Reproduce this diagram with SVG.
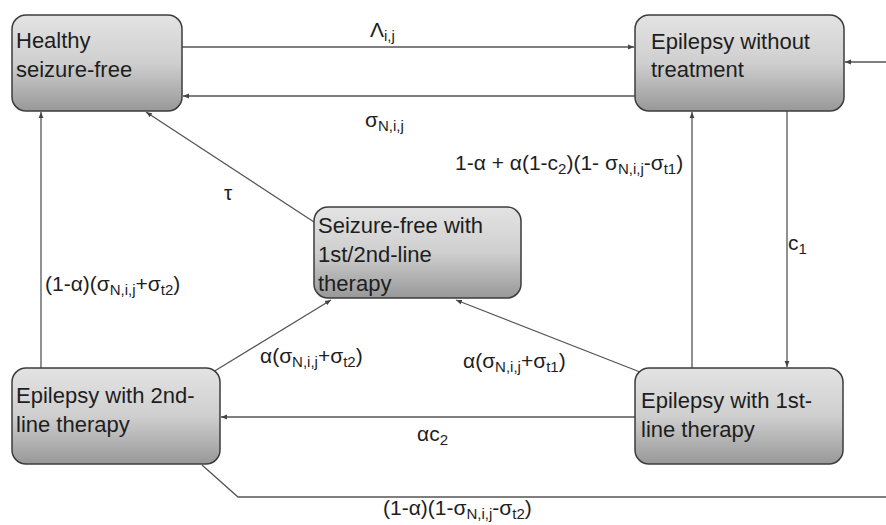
<svg xmlns="http://www.w3.org/2000/svg" width="886" height="525" viewBox="0 0 886 525">
<defs>
<linearGradient id="g" x1="0" y1="0" x2="0" y2="1">
<stop offset="0" stop-color="#e3e3e3"/>
<stop offset="0.5" stop-color="#cfcfcf"/>
<stop offset="1" stop-color="#989898"/>
</linearGradient>
<marker id="a" viewBox="0 0 10 10" refX="10" refY="5" markerWidth="6" markerHeight="6" orient="auto" markerUnits="userSpaceOnUse">
<path d="M0,1 L10,5 L0,9 z" fill="#444"/>
</marker>
<style>
.box{fill:url(#g);stroke:#3c3c3c;stroke-width:1.5}
.nt{font-family:"Liberation Sans",Arial,sans-serif;font-size:22px;fill:#1e1e1e}
.c{fill:none;stroke:#555;stroke-width:1.3}
.ar{marker-end:url(#a)}
.lb{font-family:"Liberation Sans",Arial,sans-serif;font-size:21px;fill:#1e1e1e}
.s{font-size:15px}
</style>
</defs>
<g id="connectors">
<path class="c ar" d="M182,47 H634"/>
<path class="c ar" d="M635,96 H183"/>
<path class="c ar" d="M886,62 H845"/>
<path class="c ar" d="M314,222 L146,112"/>
<path class="c ar" d="M41,368 V112"/>
<path class="c ar" d="M213,372 L331,300"/>
<path class="c ar" d="M640,372 L456,300"/>
<path class="c ar" d="M635,417 H221"/>
<path class="c ar" d="M692,368 V112"/>
<path class="c ar" d="M787,111 V367"/>
<path class="c" d="M202,465 L238,497 H886"/>
<text class="lb" x="370" y="37">Λ<tspan class="s" dy="4">i,j</tspan></text>
<text class="lb" x="365" y="127">σ<tspan class="s" dy="4">N,i,j</tspan></text>
<text class="lb" x="224" y="200">τ</text>
<text class="lb" x="45" y="291">(1-α)(σ<tspan class="s" dy="4">N,i,j</tspan><tspan dy="-4">+σ</tspan><tspan class="s" dy="4">t2</tspan><tspan dy="-4">)</tspan></text>
<text class="lb" x="260" y="363">α(σ<tspan class="s" dy="4">N,i,j</tspan><tspan dy="-4">+σ</tspan><tspan class="s" dy="4">t2</tspan><tspan dy="-4">)</tspan></text>
<text class="lb" x="463" y="368">α(σ<tspan class="s" dy="4">N,i,j</tspan><tspan dy="-4">+σ</tspan><tspan class="s" dy="4">t1</tspan><tspan dy="-4">)</tspan></text>
<text class="lb" x="417" y="441">αc<tspan class="s" dy="4">2</tspan></text>
<text class="lb" x="455" y="170">1-α + α(1-c<tspan class="s" dy="4">2</tspan><tspan dy="-4">)(1- σ</tspan><tspan class="s" dy="4">N,i,j</tspan><tspan dy="-4">-σ</tspan><tspan class="s" dy="4">t1</tspan><tspan dy="-4">)</tspan></text>
<text class="lb" x="788" y="250">c<tspan class="s" dy="4">1</tspan></text>
<text class="lb" x="383" y="515">(1-α)(1-σ<tspan class="s" dy="4">N,i,j</tspan><tspan dy="-4">-σ</tspan><tspan class="s" dy="4">t2</tspan><tspan dy="-4">)</tspan></text>
</g>
<g id="healthy">
<rect class="box" x="12" y="15" width="170" height="96" rx="14"/>
<text class="nt" x="16" y="48">Healthy</text>
<text class="nt" x="16" y="77">seizure-free</text>
</g>
<g id="without">
<rect class="box" x="635" y="15" width="209" height="96" rx="14"/>
<text class="nt" x="651" y="49">Epilepsy without</text>
<text class="nt" x="651" y="77">treatment</text>
</g>
<g id="seizurefree">
<rect class="box" x="314" y="207" width="207" height="91" rx="14"/>
<text class="nt" x="318" y="233">Seizure-free with</text>
<text class="nt" x="318" y="262">1st/2nd-line</text>
<text class="nt" x="318" y="291">therapy</text>
</g>
<g id="second">
<rect class="box" x="12" y="368" width="208" height="96" rx="14"/>
<text class="nt" x="16" y="403">Epilepsy with 2nd-</text>
<text class="nt" x="16" y="432">line therapy</text>
</g>
<g id="first">
<rect class="box" x="635" y="368" width="208" height="96" rx="14"/>
<text class="nt" x="641" y="408">Epilepsy with 1st-</text>
<text class="nt" x="641" y="437">line therapy</text>
</g>
</svg>
